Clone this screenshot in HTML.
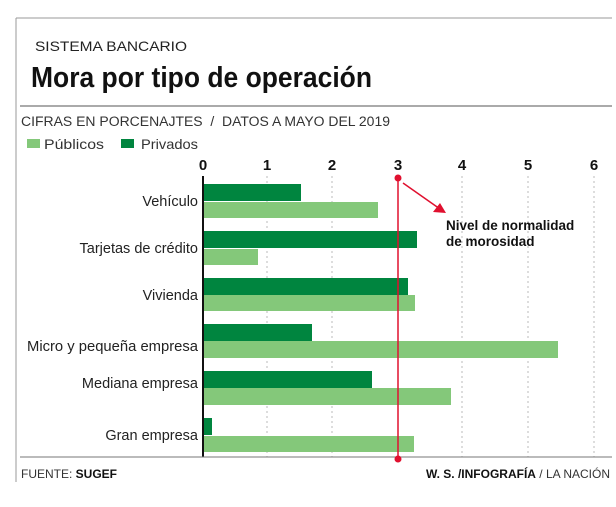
<!DOCTYPE html>
<html><head><meta charset="utf-8"><style>
body{margin:0;background:#fff;}
svg text{font-family:"Liberation Sans",sans-serif;}
</style></head><body>
<svg width="616" height="502" viewBox="0 0 616 502" xmlns="http://www.w3.org/2000/svg">
<line x1="16" y1="18" x2="612" y2="18" stroke="#999" stroke-width="1"/>
<line x1="16" y1="18" x2="16" y2="482" stroke="#999" stroke-width="1"/>
<text x="35" y="51" font-size="14" fill="#222" textLength="152" lengthAdjust="spacingAndGlyphs">SISTEMA BANCARIO</text>
<text x="31" y="87" font-size="29" font-weight="bold" fill="#111" textLength="341" lengthAdjust="spacingAndGlyphs">Mora por tipo de operación</text>
<line x1="20" y1="106" x2="612" y2="106" stroke="#aaa" stroke-width="2"/>
<text x="21" y="126" font-size="13.5" fill="#333" textLength="369" lengthAdjust="spacingAndGlyphs" xml:space="preserve">CIFRAS EN PORCENAJTES  /  DATOS A MAYO DEL 2019</text>
<rect x="27" y="139" width="13" height="9" fill="#84c87a"/>
<text x="44" y="149" font-size="14" fill="#333" textLength="60" lengthAdjust="spacingAndGlyphs">Públicos</text>
<rect x="121" y="139" width="13" height="9" fill="#00853f"/>
<text x="141" y="149" font-size="14" fill="#333" textLength="57" lengthAdjust="spacingAndGlyphs">Privados</text>
<g font-size="15" font-weight="bold" fill="#111" text-anchor="middle">
<text x="203" y="170">0</text><text x="267" y="170">1</text><text x="332" y="170">2</text><text x="398" y="170">3</text><text x="462" y="170">4</text><text x="528" y="170">5</text><text x="594" y="170">6</text>
</g>
<g stroke="#bbb" stroke-dasharray="2,3" stroke-width="1">
<line x1="267" y1="176" x2="267" y2="457"/><line x1="332" y1="176" x2="332" y2="457"/><line x1="462" y1="176" x2="462" y2="457"/><line x1="528" y1="176" x2="528" y2="457"/><line x1="594" y1="176" x2="594" y2="457"/>
</g>
<g fill="#00853f">
<rect x="203" y="184" width="98" height="17"/>
<rect x="203" y="231" width="214" height="17"/>
<rect x="203" y="278" width="205" height="17"/>
<rect x="203" y="324" width="109" height="17"/>
<rect x="203" y="371" width="169" height="17"/>
<rect x="203" y="418" width="9" height="17"/>
</g>
<g fill="#84c87a">
<rect x="203" y="202" width="175" height="16"/>
<rect x="203" y="249" width="55" height="16"/>
<rect x="203" y="295" width="212" height="16"/>
<rect x="203" y="341" width="355" height="17"/>
<rect x="203" y="388" width="248" height="17"/>
<rect x="203" y="436" width="211" height="16"/>
</g>
<line x1="203" y1="176" x2="203" y2="457" stroke="#111" stroke-width="2"/>
<line x1="20" y1="457" x2="612" y2="457" stroke="#777" stroke-width="1"/>
<g font-size="14.5" fill="#222" text-anchor="end">
<text x="198" y="206">Vehículo</text>
<text x="198" y="253">Tarjetas de crédito</text>
<text x="198" y="300">Vivienda</text>
<text x="198" y="351" textLength="171" lengthAdjust="spacingAndGlyphs">Micro y pequeña empresa</text>
<text x="198" y="388">Mediana empresa</text>
<text x="198" y="440">Gran empresa</text>
</g>
<line x1="398" y1="178" x2="398" y2="459" stroke="#e0102f" stroke-width="1.5"/>
<circle cx="398" cy="178" r="3.5" fill="#e0102f"/>
<circle cx="398" cy="459" r="3.5" fill="#e0102f"/>
<line x1="403" y1="183" x2="440" y2="209" stroke="#e0102f" stroke-width="1.5"/>
<polygon points="446,213 433,212 440,203" fill="#e0102f"/>
<text x="446" y="230" font-size="13.5" font-weight="bold" fill="#111">Nivel de normalidad</text>
<text x="446" y="246" font-size="13.5" font-weight="bold" fill="#111">de morosidad</text>
<text x="21" y="478" font-size="12" fill="#333">FUENTE: <tspan font-weight="bold" fill="#111">SUGEF</tspan></text>
<text x="610" y="478" font-size="12" fill="#333" text-anchor="end"><tspan font-weight="bold" fill="#111">W. S. /INFOGRAFÍA</tspan> / LA NACIÓN</text>
</svg>
</body></html>
